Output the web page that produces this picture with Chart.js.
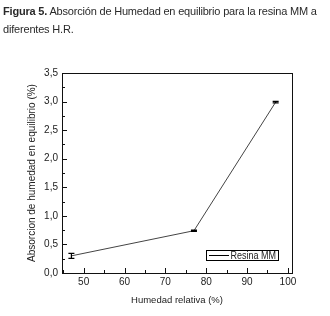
<!DOCTYPE html>
<html>
<head>
<meta charset="utf-8">
<script src="https://cdn.jsdelivr.net/npm/chart.js@4.4.0/dist/chart.umd.min.js"></script>
<style>
  html, body { margin: 0; padding: 0; background: #fff; }
  #wrap { position: relative; width: 330px; height: 316px; }
  #caption {
    position: absolute; left: 3px; top: 2px; width: 327px;
    font-family: "Liberation Sans", Arial, sans-serif;
    font-size: 11px; line-height: 18px; color: #2a2a2a;
    letter-spacing: -0.19px; white-space: nowrap;
  }
  canvas { position: absolute; left: 0; top: 0; }
</style>
</head>
<body>
<div id="wrap">
  <canvas id="chart" width="330" height="316"></canvas>
  <div id="caption"><b>Figura 5.</b> Absorción de Humedad en equilibrio para la resina MM a<br>diferentes H.R.</div>
</div>
<script>
// values
const humidity = [47, 77, 97];
const absorption = [0.30, 0.74, 2.99];
const absorptionError = [0.045, 0.012, 0.012];
const xTickValues = [50, 60, 70, 80, 90, 100];
const yTickValues = [0, 0.5, 1.0, 1.5, 2.0, 2.5, 3.0, 3.5];
const xMinorTicks = [45, 55, 65, 75, 85, 95];
const yMinorTicks = [0.25, 0.75, 1.25, 1.75, 2.25, 2.75, 3.25];

const labelFont = { family: 'Liberation Sans', size: 10 };

// frame, inward ticks, error bars and the little legend box
const decorPlugin = {
    id: 'decor',
    afterDatasetsDraw(chart) {
        const ctx = chart.ctx;
        const a = chart.chartArea;
        const xs = chart.scales.x;
        const ys = chart.scales.y;
        ctx.save();
        ctx.strokeStyle = '#111';
        ctx.lineWidth = 1;
        ctx.strokeRect(Math.round(a.left) + 0.5, Math.round(a.top) + 0.5,
            Math.round(a.right - a.left), Math.round(a.bottom - a.top));

        ctx.beginPath();
        xTickValues.forEach(v => {
            const px = Math.round(xs.getPixelForValue(v)) + 0.5;
            ctx.moveTo(px, a.bottom); ctx.lineTo(px, a.bottom - 5);
        });
        xMinorTicks.forEach(v => {
            const px = Math.round(xs.getPixelForValue(v)) + 0.5;
            if (px < a.left + 1) return;
            ctx.moveTo(px, a.bottom); ctx.lineTo(px, a.bottom - 3);
        });
        yTickValues.forEach(v => {
            const py = Math.round(ys.getPixelForValue(v)) + 0.5;
            ctx.moveTo(a.left, py); ctx.lineTo(a.left + 5, py);
        });
        yMinorTicks.forEach(v => {
            const py = Math.round(ys.getPixelForValue(v)) + 0.5;
            ctx.moveTo(a.left, py); ctx.lineTo(a.left + 3, py);
        });
        ctx.stroke();

        // error bars
        ctx.strokeStyle = '#000';
        ctx.lineWidth = 1.2;
        for (let k = 0; k < humidity.length; k++) {
            const px = xs.getPixelForValue(humidity[k]);
            const top = ys.getPixelForValue(absorption[k] + absorptionError[k]);
            const bot = ys.getPixelForValue(absorption[k] - absorptionError[k]);
            ctx.beginPath();
            ctx.moveTo(px, top); ctx.lineTo(px, bot);
            ctx.moveTo(px - 3, top); ctx.lineTo(px + 3, top);
            ctx.moveTo(px - 3, bot); ctx.lineTo(px + 3, bot);
            ctx.stroke();
        }

        // legend
        const label = chart.data.datasets[0].label;
        ctx.lineWidth = 1;
        ctx.strokeStyle = '#000';
        ctx.strokeRect(206.5, 250.5, 72, 10);
        ctx.beginPath();
        ctx.moveTo(209, 255.5); ctx.lineTo(229, 255.5);
        ctx.stroke();
        ctx.fillStyle = '#222';
        ctx.font = '10px "Liberation Sans", sans-serif';
        ctx.textBaseline = 'middle';
        ctx.translate(230.5, 256);
        ctx.scale(0.9, 1);
        ctx.fillText(label, 0, 0);
        ctx.restore();
    }
};

new Chart(document.getElementById('chart'), {
    type: 'line',
    data: {
        datasets: [
            {
                label: 'Resina MM',
                data: humidity.map((h, k) => ({ x: h, y: absorption[k] })),
                borderColor: '#444',
                borderWidth: 1,
                pointRadius: 0,
                tension: 0
            }
        ]
    },
    options: {
        responsive: false,
        animation: false,
        layout: { padding: { top: 73, right: 38, left: 0, bottom: 0 } },
        plugins: {
            legend: { display: false },
            tooltip: { enabled: false }
        },
        scales: {
            x: {
                type: 'linear',
                min: 44.7,
                max: 101,
                afterFit: s => { s.height = 43; },
                afterBuildTicks: s => { s.ticks = xTickValues.map(v => ({ value: v })); },
                border: { display: false },
                grid: { drawOnChartArea: false, drawTicks: false },
                ticks: { padding: 3, color: '#222', font: labelFont, maxRotation: 0 },
                title: {
                    display: true,
                    text: 'Humedad relativa (%)',
                    color: '#222',
                    font: { family: 'Liberation Sans', size: 9.5 },
                    padding: { top: 0, bottom: 10 }
                }
            },
            y: {
                min: 0,
                max: 3.5,
                afterFit: s => { s.width = 62; },
                afterBuildTicks: s => { s.ticks = yTickValues.map(v => ({ value: v })); },
                border: { display: false },
                grid: { drawOnChartArea: false, drawTicks: false },
                ticks: {
                    padding: 4,
                    color: '#222',
                    font: labelFont,
                    callback: v => v.toFixed(1).replace('.', ',')
                },
                title: {
                    display: true,
                    text: 'Absorcion de humedad en equilibrio (%)',
                    color: '#222',
                    font: { family: 'Liberation Sans', size: 10 },
                    padding: { top: 26, bottom: 0 }
                }
            }
        }
    },
    plugins: [decorPlugin]
});
</script>
</body>
</html>
